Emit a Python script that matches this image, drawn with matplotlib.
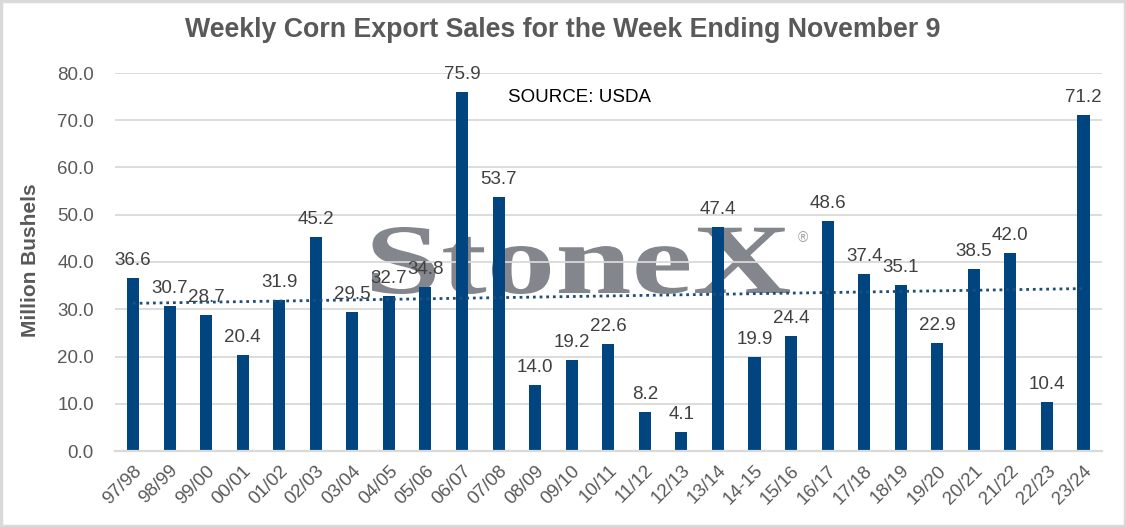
import numpy as np
import matplotlib
matplotlib.use("Agg")
import matplotlib.pyplot as plt
from matplotlib.textpath import TextPath
from matplotlib.patches import PathPatch, Rectangle
from matplotlib.font_manager import FontProperties
from matplotlib.transforms import Affine2D

# marketing years and weekly sales (million bushels)
years = ['97/98', '98/99', '99/00', '00/01', '01/02', '02/03', '03/04', '04/05',
         '05/06', '06/07', '07/08', '08/09', '09/10', '10/11', '11/12', '12/13',
         '13/14', '14-15', '15/16', '16/17', '17/18', '18/19', '19/20', '20/21',
         '21/22', '22/23', '23/24']
sales = [36.6, 30.7, 28.7, 20.4, 31.9, 45.2, 29.5, 32.7, 34.8, 75.9, 53.7, 14.0,
         19.2, 22.6, 8.2, 4.1, 47.4, 19.9, 24.4, 48.6, 37.4, 35.1, 22.9, 38.5,
         42.0, 10.4, 71.2]
yticks = [0, 10, 20, 30, 40, 50, 60, 70, 80]

bar_color = '#004580'
text_gray = '#595959'
grid_gray = '#D9D9D9'

plt.rcParams['font.family'] = ['Liberation Sans', 'DejaVu Sans']

W, H = 1126, 527
fig = plt.figure(figsize=(W / 100, H / 100), dpi=100)
ax = fig.add_axes([114.7 / W, 1 - 451 / H, (1101.8 - 114.7) / W, (451 - 73) / H])

x = np.arange(len(years))
ax.bar(x, sales, width=0.33, color=bar_color, zorder=1)

# linear trendline like Excel
coef = np.polyfit(x, sales, 1)
ax.plot(x, np.polyval(coef, x), linestyle=(0, (1, 1.4)), color='#1F4E79',
        linewidth=2, zorder=2)

for xi, v in zip(x, sales):
    ax.annotate(f'{v:.1f}', (xi, v), xytext=(0, 6.5), textcoords='offset points',
                ha='center', va='bottom', fontsize=13.5, color='#404040')

ax.set_xlim(-0.5, len(years) - 0.5)
ax.set_ylim(0, 80)
ax.set_yticks(yticks)
ax.set_yticklabels([f'{t:.1f}' for t in yticks])
ax.set_xticks(x)
ax.set_xticklabels(years, rotation=45, ha='right', rotation_mode='anchor')
ax.tick_params(axis='both', length=0, labelsize=13.5, labelcolor=text_gray)
ax.tick_params(axis='y', pad=15)
ax.tick_params(axis='x', pad=8)

ax.set_axisbelow(True)
ax.grid(axis='y', color=grid_gray, linewidth=1.3)
for s in ['top', 'right', 'left']:
    ax.spines[s].set_visible(False)
ax.spines['bottom'].set_color(grid_gray)
ax.spines['bottom'].set_linewidth(1.6)

ax.set_ylabel('Million Bushels', fontsize=15, fontweight='bold', color=text_gray)
ax.yaxis.set_label_coords((40 - 114.7) / 987.1, 0.505)

fig.text(0.5, 1 - 30 / H, 'Weekly Corn Export Sales for the Week Ending November 9',
         ha='center', va='center', fontsize=19.3, fontweight='bold', color=text_gray)
fig.text(508 / W, 1 - 98 / H, 'SOURCE: USDA', ha='left', va='center',
         fontsize=13.5, color='black')

# StoneX watermark, stretched to fit its box
fp = FontProperties(family='Liberation Serif', weight='bold')
tp = TextPath((0, 0), 'StoneX', size=1, prop=fp)
bb = tp.get_extents()
x0, x1 = 372 / W, 790 / W
y0, y1 = 1 - 294 / H, 1 - 227 / H
tr = (Affine2D().translate(-bb.x0, -bb.y0)
      .scale((x1 - x0) / bb.width, (y1 - y0) / bb.height)
      .translate(x0, y0) + fig.transFigure)
ax.add_patch(PathPatch(tp, transform=tr, facecolor='#83868C', edgecolor='none',
                       zorder=0.3, clip_on=False))
fig.text(803 / W, 1 - 238 / H, '®', ha='center', va='center', fontsize=10,
         color='#9A9CA1')

# light outer border
fig.patches.append(Rectangle((0.001, 0.002), 0.998, 0.996, transform=fig.transFigure,
                             fill=False, edgecolor=grid_gray, linewidth=2.5))

fig.savefig('out.png', dpi=100)
